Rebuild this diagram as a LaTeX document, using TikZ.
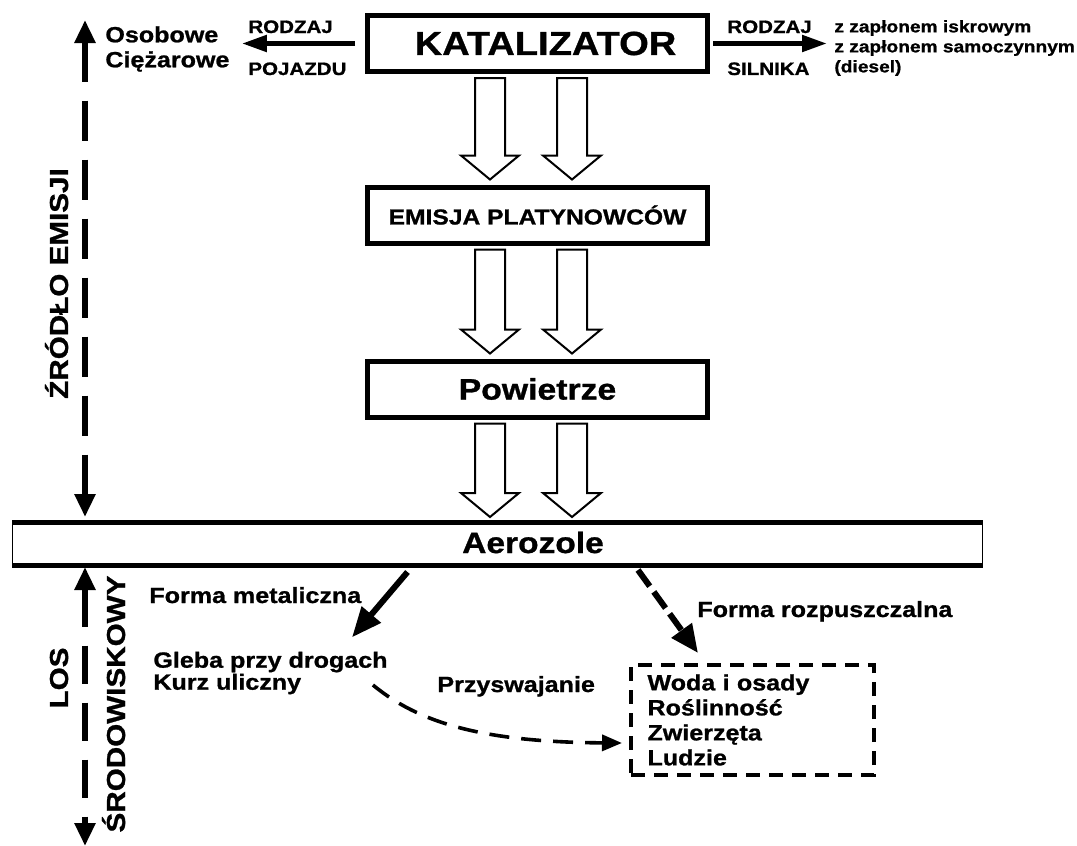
\documentclass[tikz,border=0pt]{standalone}
\usepackage{fontspec}
\setmainfont[FakeStretch=1.14,BoldFeatures={FakeBold=1}]{Liberation Sans}
\usetikzlibrary{arrows.meta,calc}

\newcommand\sz[2]{\bfseries\fontsize{#1}{#2}\selectfont}

% two hollow arrows between boxes
\newcommand\twinarrows[2]{%
  \foreach \dx in {-47.5,34.5} {
    \draw [hollow] ($(#1.south)+(\dx-15,4)$) -- ($(#1.south |- #2.north)+(\dx-15,-29)$) -- ++(-14,0)
      -- ($(#1.south |- #2.north)+(\dx,-5)$) -- ($(#1.south |- #2.north)+(\dx+29,-29)$) -- ++(-14,0)
      -- ($(#1.south)+(\dx+15,4)$) -- cycle;
  }}

\begin{document}
\begin{tikzpicture}[x=0.5pt,y=-0.5pt,font=\bfseries]
    \tikzstyle{box} = [draw, line width=2.5pt, minimum width=170pt, minimum height=28pt]
    \tikzstyle{hollow} = [line width=1pt, fill=white]
    \tikzstyle{side} = [line width=2.5pt, -{Triangle[length=12.5pt,width=8pt]}]
    \tikzstyle{vert} = [line width=2.8pt, {Triangle[length=11.5pt,width=10pt]}-{Triangle[length=11.5pt,width=10pt]}]
    \tikzstyle{txt} = [inner sep=0pt]
    \tikzstyle{vtxt} = [inner sep=0pt, rotate=90, anchor=base, font=\sz{13pt}{13pt}]
    \useasboundingbox [fill=white] (0,0) rectangle (1077,846);

    % Main chain
    \node [box, font=\sz{16.7pt}{16.7pt}] (kat) at (537.5,43.5) {\hspace{8pt}KATALIZATOR};
    \node [box, font=\sz{10.8pt}{10.8pt}] (emis) at (537.5,215) {EMISJA PLATYNOWCÓW};
    \node [box, font=\sz{14.8pt}{14.8pt}] (pow) at (537.5,389) {Powietrze};

    % Aerosol band
    \node [draw, line width=0.5pt, minimum width=485pt, minimum height=21pt] (aer) at (497.5,543.5) {};
    \draw [line width=2.5pt] (aer.north west) -- (aer.north east);
    \draw [line width=2.5pt] (aer.south west) -- (aer.south east);
    \node [txt, anchor=base, font=\sz{14.7pt}{14.7pt}] (aertxt) at (533,553) {Aerozole};

    \twinarrows{kat}{emis}
    \twinarrows{emis}{pow}
    \twinarrows{pow}{aer}

    % Vehicle type
    \node [txt, anchor=base west, font=\sz{9pt}{9pt}] (typeL) at (248,33) {RODZAJ};
    \node [txt, anchor=base west, font=\sz{9pt}{9pt}] (vehL) at (248,75) {POJAZDU};
    \node [txt, anchor=west, align=left, font=\sz{11pt}{12.5pt}] (veh) at (105,49) {Osobowe\\Ciężarowe};
    \draw [side, shorten <=5pt, shorten >=6pt] (kat.west) -- (kat.west -| veh.east);

    % Engine type
    \node [txt, anchor=base west, font=\sz{9pt}{9pt}] (typeR) at (727,33) {RODZAJ};
    \node [txt, anchor=base west, font=\sz{9pt}{9pt}] (engL) at (727,75) {SILNIKA};
    \node [txt, anchor=west, align=left, font=\sz{8.4pt}{10pt}] (eng) at (834,48) {z zapłonem iskrowym\\z zapłonem samoczynnym\\(diesel)};
    \draw [side, shorten <=1.5pt, shorten >=3.5pt] (kat.east) -- (kat.east -| eng.west);

    % Left axis
    \coordinate (srcTop) at (85,20);
    \coordinate (fateBot) at (85,846);
    \draw [vert, dash pattern=on 20pt off 9.5pt, shorten >=2.5pt] (srcTop) -- (srcTop |- aer.north);
    \draw [vert, dash pattern=on 19pt off 9.5pt, shorten <=1pt] (srcTop |- aer.south) -- (fateBot);
    \node [vtxt] (src) at (68,283.5) {ŹRÓDŁO EMISJI};
    \node [vtxt] (los) at (68,678) {LOS};
    \node [vtxt] (env) at (125,704) {ŚRODOWISKOWY};

    % Fate in the environment
    \node [txt, anchor=base west, font=\sz{11pt}{11pt}] (met) at (149,603) {Forma metaliczna};
    \node [txt, anchor=west, align=left, font=\sz{11pt}{11pt}] (soil) at (153,673) {Gleba przy drogach\\Kurz uliczny};
    \node [txt, anchor=base west, font=\sz{11pt}{11pt}] (sol) at (697,617) {Forma rozpuszczalna};
    \node [txt, anchor=base west, font=\sz{11pt}{11pt}] (upt) at (437,692) {Przyswajanie};
    \node [draw, line width=2pt, dash pattern=on 7pt off 4.5pt, minimum width=121.5pt, minimum height=55pt,
           text width=105pt, inner xsep=8pt, align=left, font=\sz{11pt}{12.5pt}] (biota) at (752.5,720)
           {Woda i osady\\Roślinność\\Zwierzęta\\Ludzie};

    \draw [line width=3pt, -{Triangle[length=15pt,width=12pt]}] ($(aer.south)+(-90,7)$) -- ($(soil.north west)+(199,-14)$);
    \draw [line width=3pt, dash pattern=on 10pt off 3.5pt, -{Triangle[length=14pt,width=12pt]}] ($(aer.south)+(140.5,5)$) -- ($(biota.north)+(-54.5,-10)$);
    \draw [line width=1.8pt, dash pattern=on 10pt off 6pt, -{Triangle[length=10pt,width=8pt]}]
        ($(soil.east)+(-15,12)$) .. controls +(45,37) and +(-142,-1) .. ($(biota.west)+(-7,23)$);
\end{tikzpicture}
\end{document}
